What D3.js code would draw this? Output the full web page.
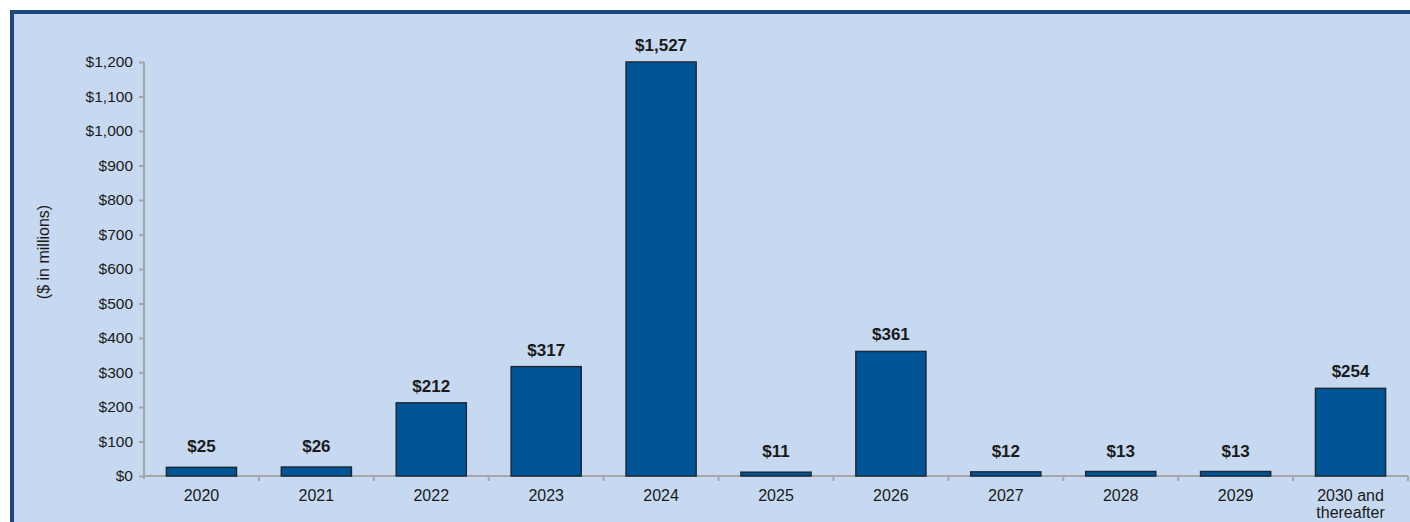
<!DOCTYPE html>
<html>
<head>
<meta charset="utf-8">
<script src="https://cdn.jsdelivr.net/npm/d3@7"></script>
<style>
  body { margin: 0; background: #fff; font-family: "Liberation Sans", Arial, sans-serif; overflow: hidden; }
  svg { display: block; }
  .axis path, .axis line { stroke: #a6a6a6; stroke-width: 2; }
  .axis text { font-size: 15.5px; fill: #1a1a1a; font-family: "Liberation Sans", Arial, sans-serif; }
  .axis text.xlabel { font-size: 16px; }
</style>
</head>
<body>
<script>
//categories and values ($ in millions)
const years = ['2020', '2021', '2022', '2023', '2024', '2025', '2026', '2027', '2028', '2029', '2030 and thereafter']
const amounts = [25, 26, 212, 317, 1527, 11, 361, 12, 13, 13, 254]
const yTicks = [0, 100, 200, 300, 400, 500, 600, 700, 800, 900, 1000, 1100, 1200]

const width = 1410
const height = 522

const svg = d3.select('body')
  .append('svg')
  .attr('width', width)
  .attr('height', height)

//panel background, dark border only shows on top and left
svg.append('rect')
  .attr('x', 12).attr('y', 12)
  .attr('width', width - 12).attr('height', height - 12)
  .attr('fill', '#c6d9f0')

svg.append('path')
  .attr('d', `M12,${height}V12H${width}`)
  .attr('fill', 'none')
  .attr('stroke', '#1f497d')
  .attr('stroke-width', 4)

const margin = { top: 62, bottom: 46, left: 144, right: 2 }
const innerWidth = width - margin.left - margin.right
const innerHeight = height - margin.top - margin.bottom

const g = svg.append('g')
  .attr('transform', `translate(${margin.left},${margin.top})`)

//=========== SCALES ===========
const xScale = d3.scaleBand()
  .domain(years)
  .range([0, innerWidth])
  .paddingInner(0.39)
  .paddingOuter(0.195)

//axis stops at 1200, the tall bar is cut there
const yScale = d3.scaleLinear()
  .domain([0, 1200])
  .range([innerHeight, 0])
  .clamp(true)

//=========== Y AXIS ===========
const yAxis = d3.axisLeft(yScale)
  .tickValues(yTicks)
  .tickFormat(d => '$' + d3.format(',')(d))
  .tickSize(5)
  .tickPadding(6)

g.append('g').attr('class', 'axis').call(yAxis)
  .select('.domain').attr('d', `M0,0V${innerHeight + 3}`)

//=========== X AXIS ===========
const xAxisG = g.append('g')
  .attr('class', 'axis')
  .attr('transform', `translate(0,${innerHeight})`)

xAxisG.append('line')
  .attr('x1', 0).attr('x2', innerWidth)
  .attr('y1', 0).attr('y2', 0)

//tick marks between the categories
const step = xScale.step()
const start = xScale(years[0]) - xScale.paddingOuter() * step
xAxisG.selectAll('.tick-mark')
  .data(d3.range(1, years.length + 1))
  .enter()
  .append('line')
  .attr('class', 'tick-mark')
  .attr('x1', i => start + i * step)
  .attr('x2', i => start + i * step)
  .attr('y1', 0).attr('y2', 5)

//category labels, wrap the long one
xAxisG.selectAll('.xlabel')
  .data(years)
  .enter()
  .append('text')
  .attr('class', 'xlabel')
  .attr('text-anchor', 'middle')
  .attr('x', d => xScale(d) + xScale.bandwidth() / 2)
  .attr('y', 25)
  .each(function (d) {
    const parts = d === '2030 and thereafter' ? ['2030 and', 'thereafter'] : [d]
    parts.forEach((p, i) => {
      d3.select(this).append('tspan')
        .attr('x', xScale(d) + xScale.bandwidth() / 2)
        .attr('dy', i === 0 ? 0 : 17)
        .text(p)
    })
  })

//=========== BARS ===========
const data = years.map((y, i) => ({ year: y, value: amounts[i] }))

g.selectAll('.bar')
  .data(data)
  .enter()
  .append('rect')
  .attr('class', 'bar')
  .attr('x', d => xScale(d.year))
  .attr('y', d => yScale(d.value))
  .attr('width', xScale.bandwidth())
  .attr('height', d => innerHeight - yScale(d.value))
  .attr('fill', '#005596')
  .attr('stroke', '#1a2a3a')
  .attr('stroke-width', 1.5)

//value labels
g.selectAll('.value')
  .data(data)
  .enter()
  .append('text')
  .attr('class', 'value')
  .attr('text-anchor', 'middle')
  .attr('x', d => xScale(d.year) + xScale.bandwidth() / 2)
  .attr('y', d => yScale(d.value) - (d.value < 100 ? 15 : 11))
  .style('font-size', '17px')
  .style('font-weight', 'bold')
  .style('fill', '#1a1a1a')
  .text(d => '$' + d3.format(',')(d.value))

//axis title
svg.append('text')
  .text('($ in millions)')
  .attr('transform', 'translate(49,252) rotate(-90)')
  .attr('text-anchor', 'middle')
  .style('font-size', '16px')
  .style('fill', '#1a1a1a')
</script>
</body>
</html>
